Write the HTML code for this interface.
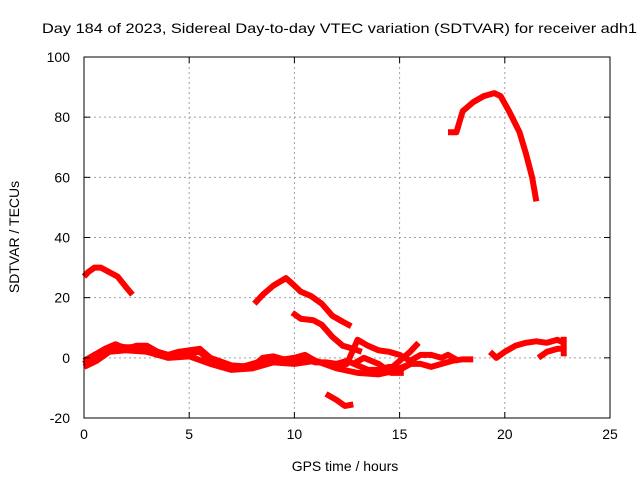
<!DOCTYPE html>
<html><head><meta charset="utf-8"><style>
body{margin:0;background:#fff}
svg{display:block;font-family:"Liberation Sans",sans-serif}
</style></head><body>
<svg id="chart" width="640" height="480">
<text x="42" y="33" font-size="14" textLength="595" lengthAdjust="spacingAndGlyphs">Day 184 of 2023, Sidereal Day-to-day VTEC variation (SDTVAR) for receiver adh1</text>
<g id="grid"></g>
<g id="series"></g>
<rect x="84" y="57" width="526" height="361" fill="none" stroke="#000" stroke-width="1"/>
<g id="ticks"></g>
<text x="345" y="471" font-size="14" text-anchor="middle">GPS time / hours</text>
<text transform="translate(19,237) rotate(-90)" font-size="14" text-anchor="middle">SDTVAR / TECUs</text>
</svg>
<script>
const xTicks=[0,5,10,15,20,25];
const yTicks=[-20,0,20,40,60,80,100];
const seriesA=[[0,27],[0.2,28.5],[0.5,30],[0.8,30],[1.2,28.5],[1.6,27],[2,23.5],[2.3,21]];
const seriesB=[[8.1,18],[8.5,21],[9,24],[9.6,26.5],[10,24],[10.3,22],[10.8,20.5],[11.3,18],[11.8,14],[12.3,12],[12.7,10.5]];
const seriesC=[[9.9,15],[10.3,13],[10.9,12.5],[11.3,11],[11.8,7],[12.3,4],[12.8,3],[13.2,2]];
const seriesD=[[11.5,-12],[12,-14],[12.4,-16],[12.8,-15.5]];
const seriesE=[[17.3,75],[17.7,75],[18,82],[18.5,85],[19,87],[19.5,88],[19.8,87],[20.2,82],[20.7,75],[21,68],[21.3,60],[21.5,52]];
const seriesF=[[0,-1],[0.5,1],[1,2.5],[1.5,4],[2,3.5],[2.5,3.5],[3,3],[3.5,1],[4,1],[4.5,1.5],[5,1.5],[5.5,2],[6,-1],[6.5,-3],[7,-3.5],[7.5,-3],[8,-2],[8.5,-1],[9,-0.5],[9.5,-1],[10,-1],[10.5,-0.5],[11,-1.5],[11.5,-1.5],[12,-2],[12.5,-1],[13,-2.5],[13.5,-4],[14,-4],[14.5,-3],[15,-3.5],[15.5,-2],[16,-2],[16.5,-3],[17,-2],[17.5,-1],[18,-0.5],[18.5,-0.5]];
const seriesG=[[0,-2],[0.5,1],[1,3],[1.5,4.5],[2,3],[2.5,4],[3,4],[3.5,2],[4,1],[4.5,2],[5,2.5],[5.5,3],[6,0],[7,-2.5],[8,-3],[8.5,0],[9,0.5],[9.5,-0.5],[10,0],[10.5,1],[11,-1],[12,-3],[12.5,-2],[13,6],[13.5,4],[14,2.5],[14.5,2],[15,1],[15.5,-1],[16,1],[16.5,1],[17,0],[17.3,1],[17.8,-1]];
const seriesH=[[19.3,2],[19.6,0],[20,2],[20.5,4],[21,5],[21.5,5.5],[22,5],[22.5,6],[22.8,5]];
const seriesI=[[21.6,0],[22,2],[22.5,3],[22.8,3]];
const seriesJ=[[14.5,-4],[15,-1],[15.5,2],[15.9,5]];
const seriesK=[[12.8,-2],[13.3,0],[14,-2],[14.6,-5],[15.2,-5]];
const seriesL=[[22.8,0.5],[22.8,7]];
const seriesM=[[0,-3],[0.6,-1],[1.2,2],[2,2.5],[3,2],[4,0],[5,0.5],[6,-2],[7,-4],[8,-3.5],[9,-1.5],[10,-2],[11,-1],[12,-3.5],[13,-5],[14,-5.5],[15,-4],[15.8,-1]];
const allSeries=[seriesA,seriesB,seriesC,seriesD,seriesE,seriesF,seriesG,seriesH,seriesI,seriesJ,seriesK,seriesL,seriesM];
const X0=84,X1=610,Y0=418,Y1=57;
function xs(v){return X0+(v-0)/(25-0)*(X1-X0);}
function ys(v){return Y0-(v+20)/(120)*(Y0-Y1);}
const NS="http://www.w3.org/2000/svg";
const grid=document.getElementById('grid'),ticks=document.getElementById('ticks'),sg=document.getElementById('series');
function mk(tag,attrs,parent){const e=document.createElementNS(NS,tag);for(const k in attrs)e.setAttribute(k,attrs[k]);parent.appendChild(e);return e;}
xTicks.forEach(t=>{
  const x=xs(t);
  if(t>0&&t<25){const l=mk('line',{x1:x,x2:x,y1:Y1,y2:Y0,stroke:'#a0a0a0','stroke-dasharray':'2,3'},grid);
  
  }
  mk('line',{x1:x,x2:x,y1:Y0,y2:Y0-6,stroke:'#000'},ticks);
  mk('line',{x1:x,x2:x,y1:Y1,y2:Y1+6,stroke:'#000'},ticks);
  const tx=mk('text',{x:x,y:Y0+21,'font-size':14,'text-anchor':'middle'},ticks);
  tx.textContent=t;
  
  
});
yTicks.forEach(t=>{
  const y=ys(t);
  if(t>-20&&t<100){const l=mk('line',{x1:X0,x2:X1,y1:y,y2:y,stroke:'#a0a0a0','stroke-dasharray':'2,3'},grid);
  
  }
  mk('line',{x1:X0,x2:X0+6,y1:y,y2:y,stroke:'#000'},ticks);
  mk('line',{x1:X1,x2:X1-6,y1:y,y2:y,stroke:'#000'},ticks);
  const tx=mk('text',{x:X0-14,y:y+5,'font-size':14,'text-anchor':'end'},ticks);
  tx.textContent=t;
  
  
});
allSeries.forEach(s=>{
  const p=mk('polyline',{points:s.map(d=>xs(d[0])+','+ys(d[1])).join(' '),fill:'none',stroke:'#ff0000','stroke-width':6,'stroke-linejoin':'round'},sg);
  
  
});
</script>
</body></html>
